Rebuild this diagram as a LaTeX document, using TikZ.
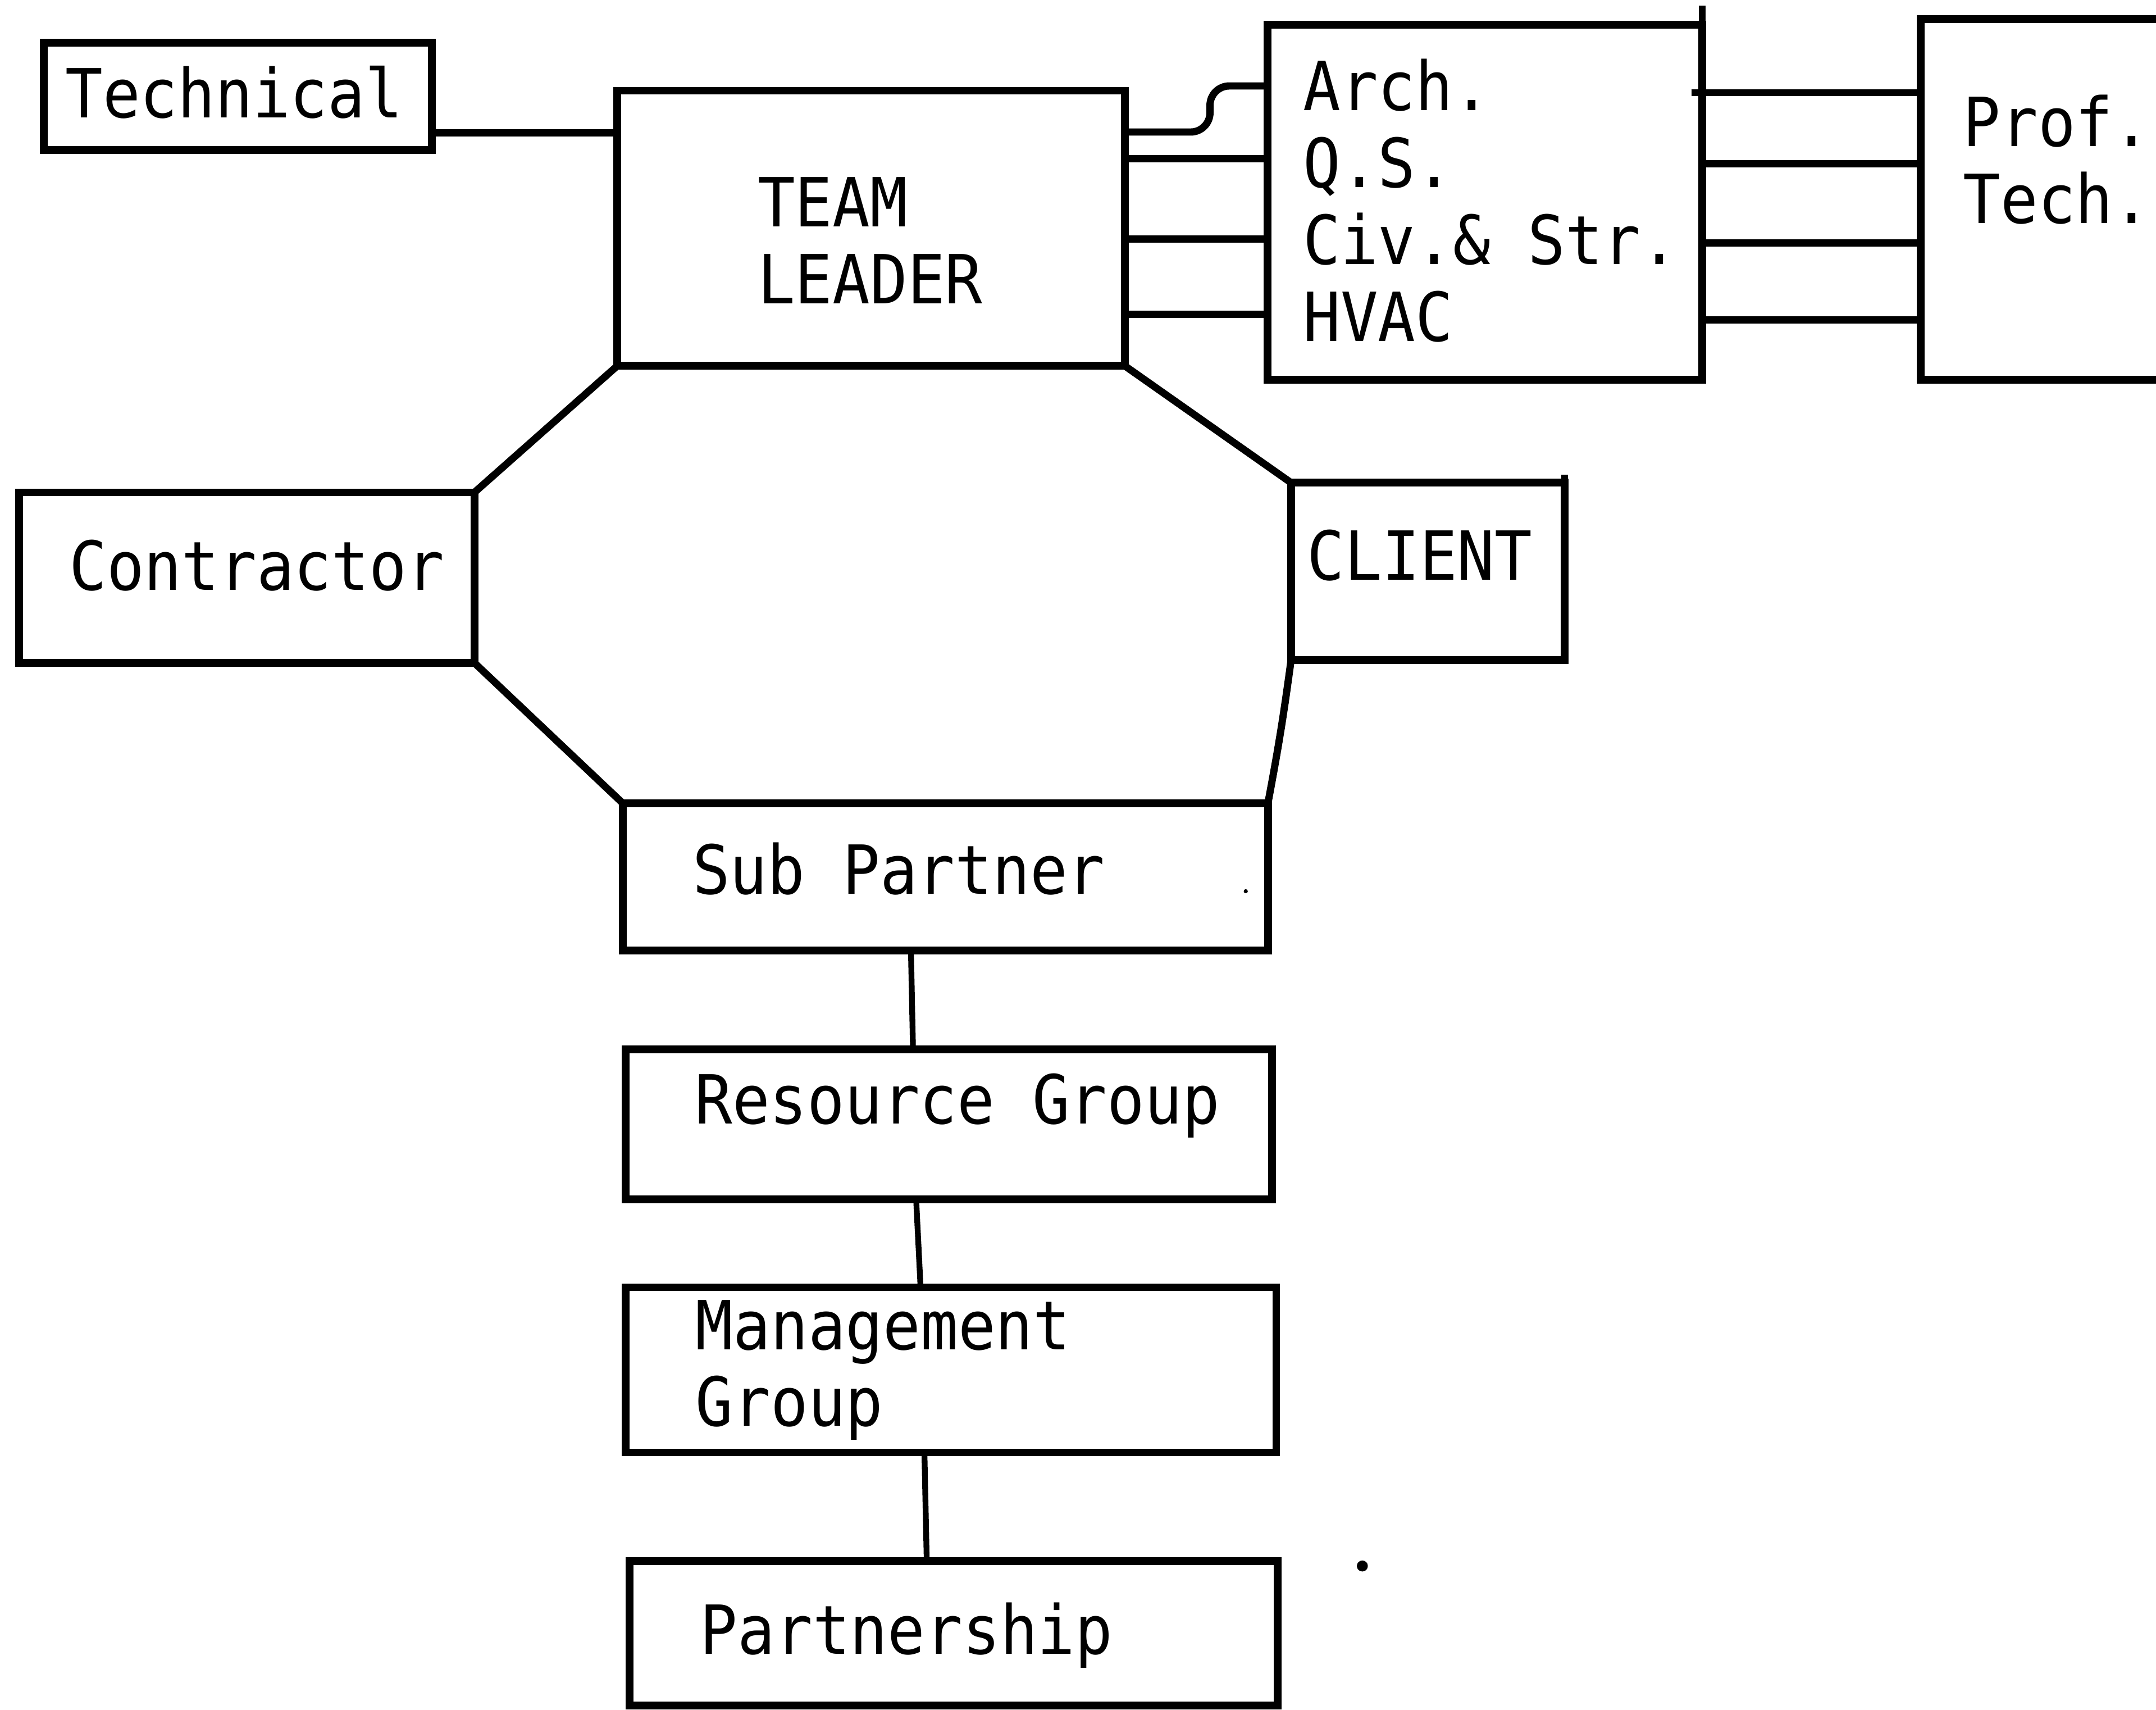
\documentclass[tikz,border=0pt]{standalone}
\usepackage{fontspec}
\setmonofont[FakeStretch=0.92]{DejaVu Sans Mono}
\usetikzlibrary{calc}
\newcommand\lblfont{\ttfamily\fontsize{14}{15.9}\selectfont}
\tikzset{
  box/.style={draw, line width=1.6pt, inner sep=0pt, outer sep=0pt},
  % anchored on the baseline of the last line of the label
  lbl/.style={anchor=base west, inner sep=0pt, outer sep=0pt, font=\lblfont, align=left},
  link/.style={line width=1.5pt, line join=round},
  stem/.style={line width=1.2pt}
}
\begin{document}
\begin{tikzpicture}[x=0.01cm, y=-0.01cm]
\clip (0,0) rectangle (1568,1243);
\fill[white] (0,0) rectangle (1568,1243);

% boxes
\node[box, minimum width=2.82cm, minimum height=0.78cm] (tech)   at (173,70) {};
\node[box, minimum width=3.69cm, minimum height=2.00cm] (lead)   at (633.5,166) {};
\node[box, minimum width=3.16cm, minimum height=2.58cm] (arch)   at (1080,147) {};
\node[box, minimum width=3.03cm, minimum height=2.62cm] (prof)   at (1548.5,145) {};
\node[box, minimum width=3.31cm, minimum height=1.24cm] (contr)  at (179.5,420) {};
\node[box, minimum width=1.99cm, minimum height=1.29cm] (client) at (1038.5,415.5) {};
\node[box, minimum width=4.69cm, minimum height=1.07cm] (sub)    at (687.5,637.5) {};
\node[box, minimum width=4.70cm, minimum height=1.09cm] (res)    at (690,817.5) {};
\node[box, minimum width=4.73cm, minimum height=1.20cm] (mgmt)   at (691.5,996) {};
\node[box, minimum width=4.71cm, minimum height=1.05cm] (part)   at (693.5,1187.5) {};

% labels
\node[lbl] (techtxt)   at (47.5,85.7)  {Technical};
\node[lbl] (leadtxt)   at (551,220.6)  {TEAM\\LEADER};
\node[lbl] (archtxt)   at (947.7,248)  {Arch.\\Q.S.\\Civ.\& Str.\\HVAC};
\node[lbl] (proftxt)   at (1427.7,162.2) {Prof.\\Tech.};
\node[lbl] (contrtxt)  at (50.4,428.9) {Contractor};
\node[lbl] (clienttxt) at (950.8,421.7) {CLIENT};
\node[lbl] (subtxt)    at (503.7,650)  {Sub Partner};
\node[lbl] (restxt)    at (505.4,817)  {Resource Group};
\node[lbl] (mgmttxt)   at (506,1037)   {Management\\Group};
\node[lbl] (parttxt)   at (509.3,1202.5) {Partnership};

% extended box edges
\draw[line width=1.4pt] (arch.north east) -- ++(0,-14);
\draw[line width=1.4pt] (client.north east) -- ++(0,-6);

% technical to team leader
\draw[link] (tech.east |- 0,96.7) -- (lead.west |- 0,96.7);

% team leader to disciplines
\coordinate (kink) at (880,62.5);
\draw[link, rounded corners=4pt] (lead.east |- 0,96) -| (kink) -- (arch.west |- kink);
\draw[link] (lead.east |- 0,115.3) -- (arch.west |- 0,115.3);
\draw[link] (lead.east |- 0,173.9) -- (arch.west |- 0,173.9);
\draw[link] (lead.east |- 0,228.6) -- (arch.west |- 0,228.6);

% disciplines to prof./tech.
\draw[link] ($(arch.east |- 0,67.4)+(-8,0)$) -- (prof.west |- 0,67.4);
\draw[link] (arch.east |- 0,119.2) -- (prof.west |- 0,119.2);
\draw[link] (arch.east |- 0,176.8) -- (prof.west |- 0,176.8);
\draw[link] (arch.east |- 0,232.5) -- (prof.west |- 0,232.5);

% octagon ring
\draw[link] (lead.south west) -- (contr.north east);
\draw[link] (lead.south east) -- (client.north west);
\draw[link] (contr.south east) -- (sub.north west);
\draw[link] (client.south west) to[bend left=1.5] (sub.north east);

% vertical chain
\draw[stem] (sub.south -| 662.5,0) -- (res.north -| 664,0);
\draw[stem] (res.south -| 666.3,0) -- (mgmt.north -| 669.5,0);
\draw[stem] (mgmt.south -| 672.3,0) -- (part.north -| 674,0);

% stray dots
\fill (990.8,1138.6) circle[radius=4];
\fill (906,648) circle[radius=1.5];
\end{tikzpicture}
\end{document}
